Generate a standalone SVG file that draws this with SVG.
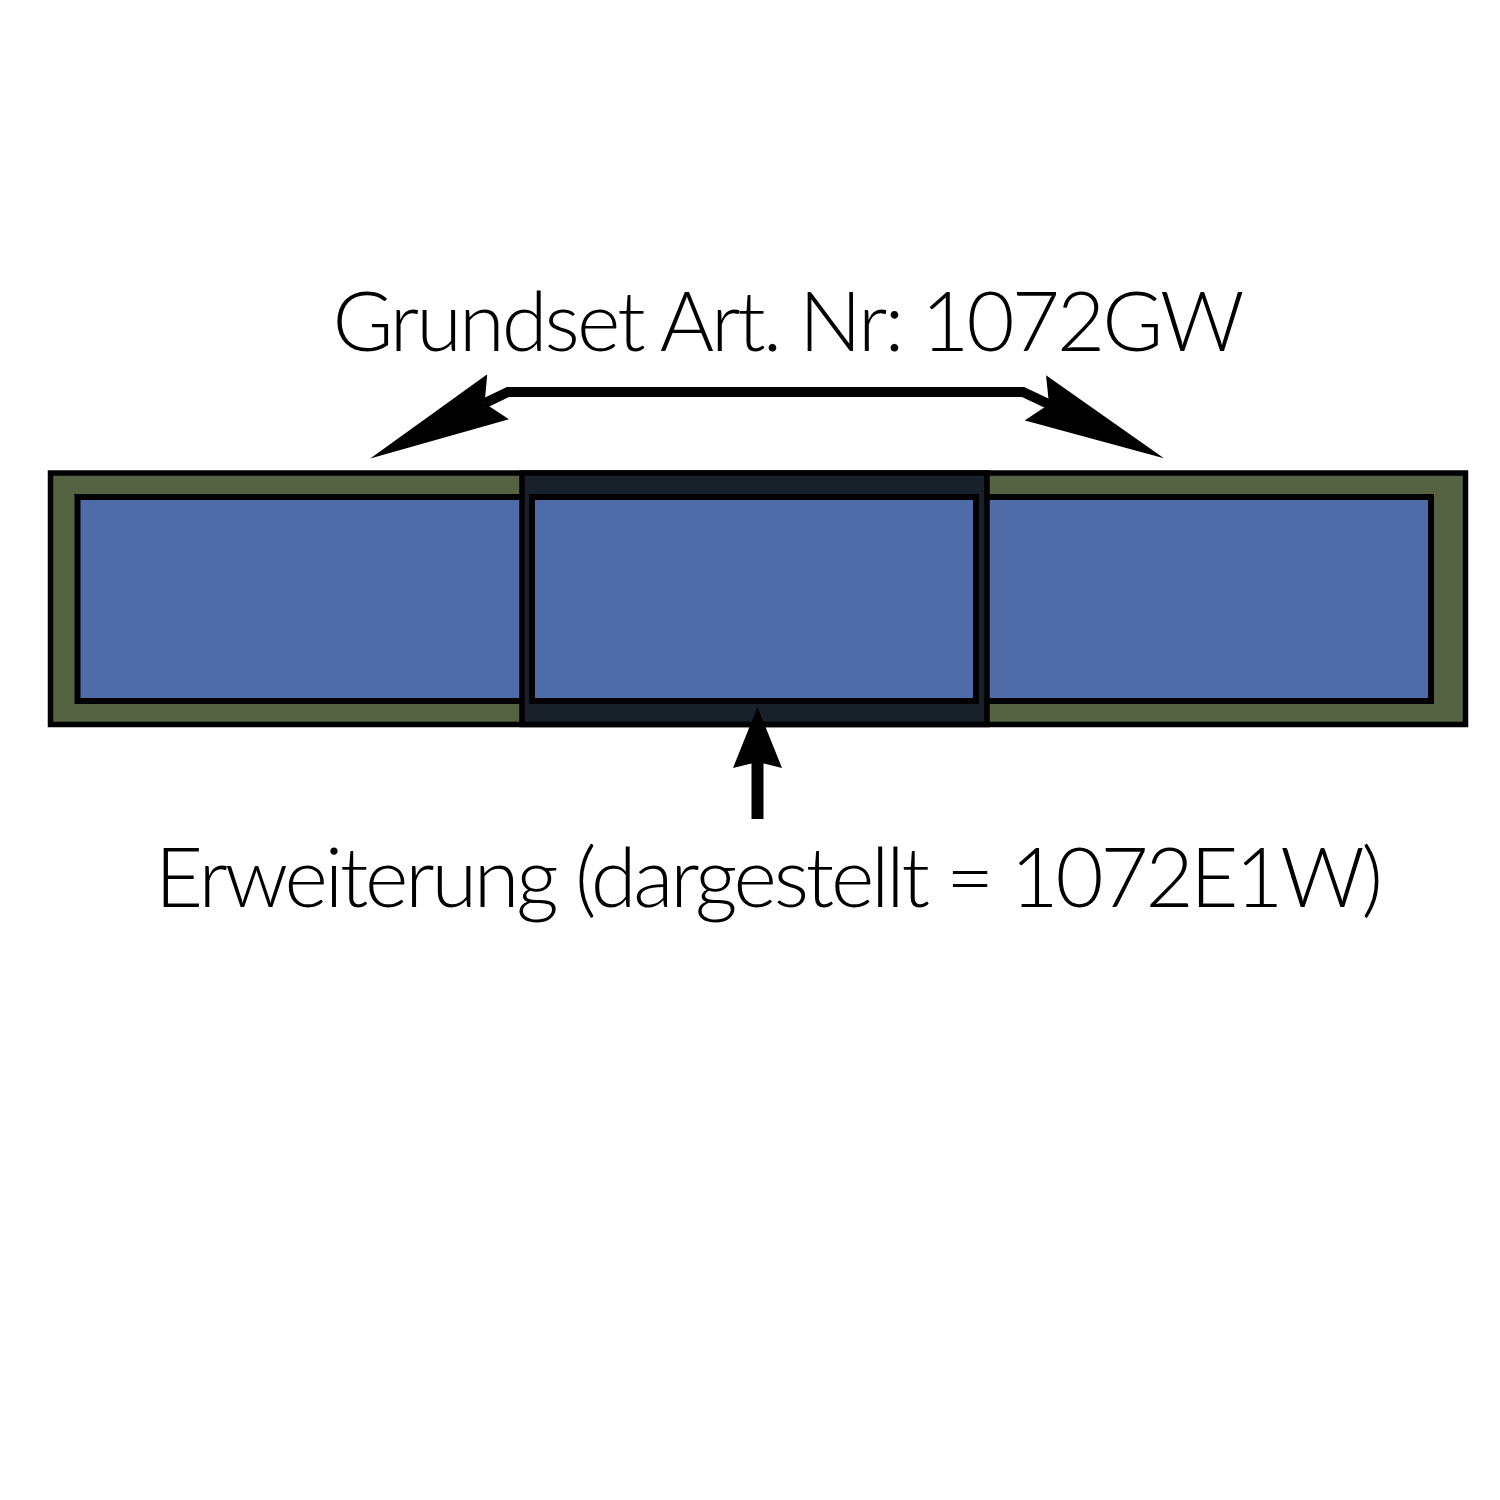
<svg xmlns="http://www.w3.org/2000/svg" width="1500" height="1500" viewBox="0 0 1500 1500">
<style>
.frame{fill:#566343;stroke:#000;stroke-width:5.5}
.ext{fill:#182129;stroke:#000;stroke-width:5.5}
.pane{fill:#4f6ca9;stroke:#000;stroke-width:6}
.lbl{font-family:Lato,"Liberation Sans",sans-serif;font-weight:300;font-size:83px;fill:#000;text-anchor:middle}
.conn{fill:none;stroke:#000;stroke-linejoin:miter}
</style>
<defs>
<marker id="bigHead" viewBox="0 0 142 50" refX="15" refY="25" markerWidth="142" markerHeight="50" markerUnits="userSpaceOnUse" orient="auto-start-reverse">
<path d="M142,25 L0,0 L15,25 L0,50 Z" fill="#000"/>
</marker>
<marker id="smallHead" viewBox="0 0 61 49" refX="6" refY="24.5" markerWidth="61" markerHeight="49" markerUnits="userSpaceOnUse" orient="auto">
<path d="M61,24.5 L0,0 L6,24.5 L0,49 Z" fill="#000"/>
</marker>
</defs>
<rect width="1500" height="1500" fill="#fff"/>
<g id="grundset">
<rect class="frame" x="50.5" y="473" width="1415" height="251.5"/>
<rect class="pane" x="77.5" y="497" width="470" height="204"/>
<rect class="pane" x="960" y="497" width="471" height="204"/>
</g>
<g id="erweiterung">
<rect class="ext" x="522" y="473" width="465" height="251.5"/>
<rect class="pane" x="532" y="497" width="444" height="204"/>
</g>
<g id="connectors">
<path class="conn" stroke-width="10" d="M484.6,403.3 L508,392 L1023,392 L1049,404.2" marker-start="url(#bigHead)" marker-end="url(#bigHead)"/>
<path class="conn" stroke-width="12" d="M757.5,819 L757.5,762" marker-end="url(#smallHead)"/>
</g>
<g id="label-grundset">
<text class="lbl" x="788.5" y="351" textLength="912" lengthAdjust="spacing">Grundset Art. Nr: 1072GW</text>
</g>
<g id="label-erweiterung">
<text class="lbl" x="769" y="907" textLength="1228" lengthAdjust="spacing">Erweiterung (dargestellt = 1072E1W)</text>
</g>
</svg>
